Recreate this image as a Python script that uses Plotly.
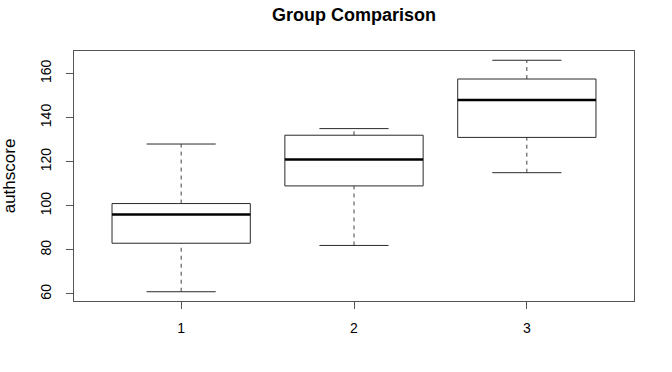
import plotly.graph_objects as go

# ---- data ----
groups = [1, 2, 3]
lower_whisker = [61, 82, 115]
q1 = [83, 109, 131]
median = [96, 121, 148]
q3 = [101, 132, 157.5]
upper_whisker = [128, 135, 166]

title = "Group Comparison"
y_label = "authscore"
y_ticks = [60, 80, 100, 120, 140, 160]

BOX_HALF = 0.4
CAP_HALF = 0.2
FONT = "Liberation Sans, Arial, Helvetica, sans-serif"
LINE = "#2a2a2a"

fig = go.Figure()

for g, lw, a, m, b, uw in zip(groups, lower_whisker, q1, median, q3, upper_whisker):
    # dashed whiskers
    for y0, y1 in ((b, uw), (lw, a)):
        fig.add_trace(go.Scatter(x=[g, g], y=[y0, y1], mode="lines",
                                 line=dict(color="#444", width=1, dash="4px,4px"),
                                 hoverinfo="skip", showlegend=False))
    # staples
    for y in (lw, uw):
        fig.add_trace(go.Scatter(x=[g - CAP_HALF, g + CAP_HALF], y=[y, y], mode="lines",
                                 line=dict(color=LINE, width=1),
                                 hoverinfo="skip", showlegend=False))
    # box
    fig.add_trace(go.Scatter(x=[g - BOX_HALF, g + BOX_HALF, g + BOX_HALF, g - BOX_HALF, g - BOX_HALF],
                             y=[a, a, b, b, a], mode="lines",
                             line=dict(color=LINE, width=1),
                             hoverinfo="skip", showlegend=False))
    # median
    fig.add_trace(go.Scatter(x=[g - BOX_HALF, g + BOX_HALF], y=[m, m], mode="lines",
                             line=dict(color="black", width=2.5),
                             hoverinfo="skip", showlegend=False))

ymin = min(lower_whisker)
ymax = max(upper_whisker)
pad = 0.04 * (ymax - ymin)

fig.update_layout(
    width=672, height=372,
    margin=dict(l=74, r=38, t=51, b=71, autoexpand=False),
    paper_bgcolor="white", plot_bgcolor="white",
    font=dict(family=FONT, size=14, color="black"),
    title=dict(text="<b>" + title + "</b>", x=0.5, xref="paper", xanchor="center",
               y=1 - 15 / 372, yanchor="middle", font=dict(size=18)),
    xaxis=dict(range=[0.5 - 0.04 * 3, 3.5 + 0.04 * 3], tickvals=groups,
               ticktext=[str(g) for g in groups],
               showgrid=False, zeroline=False, showline=True, mirror=True,
               linecolor="#555", linewidth=1, ticks="outside", ticklen=7,
               tickcolor="#555", ticklabelstandoff=7),
    yaxis=dict(range=[ymin - pad, ymax + pad], tickvals=y_ticks,
               showgrid=False, zeroline=False, showline=True, mirror=True,
               linecolor="#555", linewidth=1, ticks="outside", ticklen=7,
               tickcolor="#555", tickangle=-90, ticklabelstandoff=9,
               title=dict(text=y_label, standoff=18)),
)

fig.write_html("out.html", config={"displayModeBar": False},
               post_script="document.body.style.margin='0';")
